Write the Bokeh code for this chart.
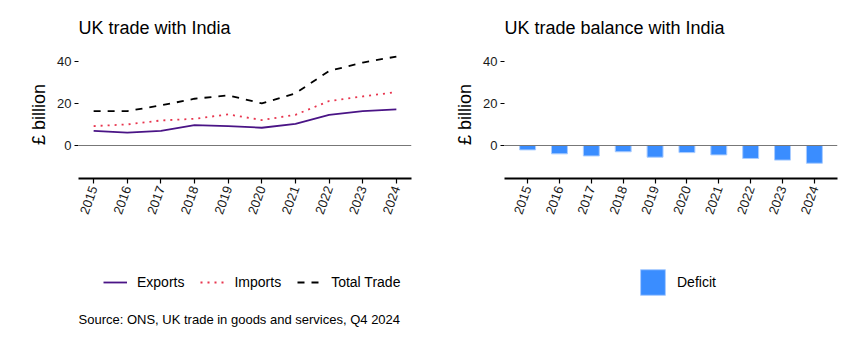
import numpy as np
from bokeh.plotting import figure
from bokeh.models import (ColumnDataSource, Range1d, FixedTicker, Span, Label,
                          Legend, LegendItem)
from bokeh.layouts import row, column
from bokeh.embed import file_html
from bokeh.resources import INLINE

FONT = "Liberation Sans"

years = [2015, 2016, 2017, 2018, 2019, 2020, 2021, 2022, 2023, 2024]
exports = [7.0, 6.2, 7.0, 9.8, 9.3, 8.5, 10.4, 14.7, 16.5, 17.3]
imports = [9.3, 10.1, 12.0, 12.8, 14.9, 12.2, 14.7, 21.3, 23.5, 25.6]
total_trade = [16.5, 16.5, 19.2, 22.4, 24.0, 20.2, 25.0, 35.7, 39.7, 42.6]
deficit = [-2.1, -4.0, -5.0, -3.0, -5.6, -3.4, -4.5, -6.2, -7.0, -8.5]
y_ticks = [0, 20, 40]

title_left = "UK trade with India"
title_right = "UK trade balance with India"
y_label = "£ billion"
source_note = "Source: ONS, UK trade in goods and services, Q4 2024"

c_exp = "#4A1486"
c_imp = "#E8354E"
c_tot = "#000000"
c_bar = "#3A8DFF"
c_bar_line = "#A9CCFF"

src = ColumnDataSource(dict(year=years, exports=exports, imports=imports,
                            total=total_trade, deficit=deficit))
# placeholder source for legend keys (draws nothing in the strip)
key_src = ColumnDataSource(dict(x=np.array([np.nan]), y=np.array([np.nan])))

Y0, Y1 = -15.8, 45.5
TOP_H = 245
LEG_H = 339 - TOP_H


def make_fig(width, left, right, x0, x1, title):
    p = figure(width=width, height=TOP_H, output_backend="svg", toolbar_location=None,
               x_range=Range1d(x0, x1), y_range=Range1d(Y0, Y1),
               min_border_left=left, min_border_right=right,
               min_border_top=50, min_border_bottom=TOP_H - 178)
    p.outline_line_color = None
    p.xgrid.visible = False
    p.ygrid.visible = False
    p.background_fill_color = "white"
    p.border_fill_color = "white"

    p.title.text = title
    p.title.text_font = FONT
    p.title.text_font_size = "18px"
    p.title.text_font_style = "normal"
    p.title.text_color = "black"
    p.title.align = "left"
    p.title.standoff = 26

    p.xaxis.ticker = FixedTicker(ticks=years)
    p.xaxis.major_label_orientation = 1.22
    p.xaxis.major_label_text_font = FONT
    p.xaxis.major_label_text_font_size = "13px"
    p.xaxis.major_label_text_color = "#1a1a1a"
    p.xaxis.axis_line_color = "black"
    p.xaxis.axis_line_width = 1.8
    p.xaxis.major_tick_line_color = "black"
    p.xaxis.major_tick_line_width = 1.2
    p.xaxis.major_tick_out = 5
    p.xaxis.major_tick_in = 0
    p.xaxis.minor_tick_line_color = None
    p.xaxis.major_label_standoff = 3

    p.yaxis.ticker = FixedTicker(ticks=y_ticks)
    p.yaxis.axis_line_color = None
    p.yaxis.major_tick_line_color = "black"
    p.yaxis.major_tick_line_width = 1.2
    p.yaxis.major_tick_out = 4
    p.yaxis.major_tick_in = 0
    p.yaxis.minor_tick_line_color = None
    p.yaxis.major_label_text_font = FONT
    p.yaxis.major_label_text_font_size = "13px"
    p.yaxis.major_label_text_color = "#1a1a1a"
    p.yaxis.major_label_standoff = 3
    p.yaxis.axis_label = y_label
    p.yaxis.axis_label_text_font = FONT
    p.yaxis.axis_label_text_font_size = "18px"
    p.yaxis.axis_label_text_font_style = "normal"
    p.yaxis.axis_label_text_color = "black"
    p.yaxis.axis_label_standoff = 5

    p.add_layout(Span(location=0, dimension="width", line_color="#777777", line_width=1.2))
    return p


def legend_fig(width):
    p = figure(width=width, height=LEG_H, output_backend="svg", toolbar_location=None,
               x_range=Range1d(0, 1), y_range=Range1d(0, 1),
               x_axis_type=None, y_axis_type=None,
               min_border=0, min_border_left=0, min_border_right=0,
               min_border_top=0, min_border_bottom=0)
    p.outline_line_color = None
    p.xgrid.visible = False
    p.ygrid.visible = False
    p.background_fill_color = "white"
    p.border_fill_color = "white"
    return p


# Left panel
p1 = make_fig(430, 78, 19, 2014.55, 2024.45, title_left)
p1.line("year", "exports", source=src, line_color=c_exp, line_width=1.8)
p1.line("year", "imports", source=src, line_color=c_imp, line_width=1.8, line_dash="2 5")
p1.line("year", "total", source=src, line_color=c_tot, line_width=1.8, line_dash="7 7")

# Right panel
p2 = make_fig(429, 74, 22, 2014.275, 2024.725, title_right)
p2.vbar(x="year", top="deficit", bottom=0, width=0.5, source=src,
        fill_color=c_bar, line_color=c_bar_line, line_width=1)

# Legend strip (left): legend keys styled like the series
l1 = legend_fig(430)
k_exp = l1.line("x", "y", source=key_src, line_color=c_exp, line_width=1.8)
k_imp = l1.line("x", "y", source=key_src, line_color=c_imp, line_width=1.8, line_dash="2 5")
k_tot = l1.line("x", "y", source=key_src, line_color=c_tot, line_width=1.8, line_dash="7 7")
leg1 = Legend(items=[LegendItem(label="Exports", renderers=[k_exp]),
                     LegendItem(label="Imports", renderers=[k_imp]),
                     LegendItem(label="Total Trade", renderers=[k_tot])],
              orientation="horizontal", location=(103, 47),
              glyph_width=24, glyph_height=20, label_standoff=10, spacing=16,
              padding=0, margin=0, border_line_color=None,
              background_fill_alpha=0, label_text_font=FONT,
              label_text_font_size="14px", label_text_color="black")
l1.add_layout(leg1)
l1.add_layout(Label(x=78, y=20, x_units="screen", y_units="screen",
                    text=source_note, text_font=FONT, text_font_size="13px",
                    text_color="black", text_baseline="alphabetic"))

# Legend strip (right)
l2 = legend_fig(429)
k_bar = l2.vbar(x="x", top="y", bottom=0, width=0.5, source=key_src,
                fill_color=c_bar, line_color=c_bar_line, line_width=1)
leg2 = Legend(items=[LegendItem(label="Deficit", renderers=[k_bar])],
              orientation="horizontal", location=(207, 41),
              glyph_width=31, glyph_height=32, label_standoff=9,
              padding=0, margin=0, border_line_color=None,
              background_fill_alpha=0, label_text_font=FONT,
              label_text_font_size="14px", label_text_color="black")
l2.add_layout(leg2)

layout = column(row(p1, p2, spacing=0), row(l1, l2, spacing=0), spacing=0)
open("out.html", "w").write(file_html(layout, INLINE))
